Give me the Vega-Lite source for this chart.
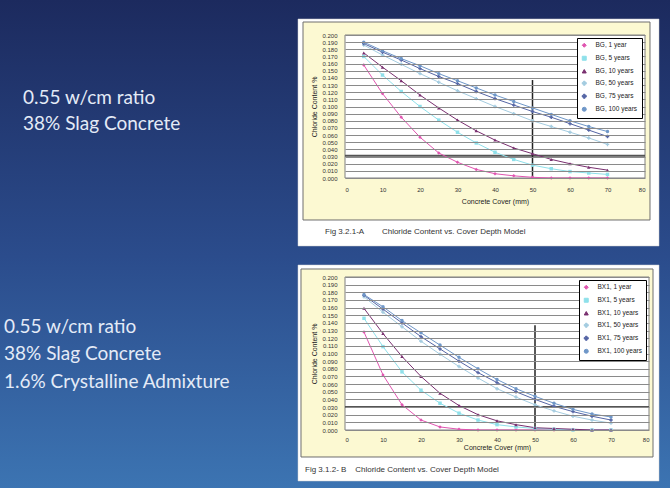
{
  "$schema": "https://vega.github.io/schema/vega-lite/v6.json",
  "padding": 0,
  "background": "#2b4c8c",
  "bounds": "flush",
  "spacing": 99,
  "datasets": {
    "bg": [
      {"series": "BG, 1 year", "cover": 5, "chloride": 0.158}, {"series": "BG, 1 year", "cover": 10, "chloride": 0.118}, {"series": "BG, 1 year", "cover": 15, "chloride": 0.085}, {"series": "BG, 1 year", "cover": 20, "chloride": 0.057}, {"series": "BG, 1 year", "cover": 25, "chloride": 0.035}, {"series": "BG, 1 year", "cover": 30, "chloride": 0.022}, {"series": "BG, 1 year", "cover": 35, "chloride": 0.012}, {"series": "BG, 1 year", "cover": 40, "chloride": 0.006}, {"series": "BG, 1 year", "cover": 45, "chloride": 0.003}, {"series": "BG, 1 year", "cover": 50, "chloride": 0.001}, {"series": "BG, 1 year", "cover": 55, "chloride": 0.0}, {"series": "BG, 1 year", "cover": 60, "chloride": 0.0}, {"series": "BG, 1 year", "cover": 65, "chloride": 0.0}, {"series": "BG, 1 year", "cover": 70, "chloride": 0.0},
      {"series": "BG, 5 years", "cover": 5, "chloride": 0.170}, {"series": "BG, 5 years", "cover": 10, "chloride": 0.144}, {"series": "BG, 5 years", "cover": 15, "chloride": 0.121}, {"series": "BG, 5 years", "cover": 20, "chloride": 0.100}, {"series": "BG, 5 years", "cover": 25, "chloride": 0.081}, {"series": "BG, 5 years", "cover": 30, "chloride": 0.064}, {"series": "BG, 5 years", "cover": 35, "chloride": 0.049}, {"series": "BG, 5 years", "cover": 40, "chloride": 0.036}, {"series": "BG, 5 years", "cover": 45, "chloride": 0.026}, {"series": "BG, 5 years", "cover": 50, "chloride": 0.018}, {"series": "BG, 5 years", "cover": 55, "chloride": 0.013}, {"series": "BG, 5 years", "cover": 60, "chloride": 0.009}, {"series": "BG, 5 years", "cover": 65, "chloride": 0.007}, {"series": "BG, 5 years", "cover": 70, "chloride": 0.005},
      {"series": "BG, 10 years", "cover": 5, "chloride": 0.175}, {"series": "BG, 10 years", "cover": 10, "chloride": 0.155}, {"series": "BG, 10 years", "cover": 15, "chloride": 0.136}, {"series": "BG, 10 years", "cover": 20, "chloride": 0.116}, {"series": "BG, 10 years", "cover": 25, "chloride": 0.098}, {"series": "BG, 10 years", "cover": 30, "chloride": 0.081}, {"series": "BG, 10 years", "cover": 35, "chloride": 0.066}, {"series": "BG, 10 years", "cover": 40, "chloride": 0.053}, {"series": "BG, 10 years", "cover": 45, "chloride": 0.042}, {"series": "BG, 10 years", "cover": 50, "chloride": 0.034}, {"series": "BG, 10 years", "cover": 55, "chloride": 0.026}, {"series": "BG, 10 years", "cover": 60, "chloride": 0.020}, {"series": "BG, 10 years", "cover": 65, "chloride": 0.015}, {"series": "BG, 10 years", "cover": 70, "chloride": 0.011},
      {"series": "BG, 50 years", "cover": 5, "chloride": 0.186}, {"series": "BG, 50 years", "cover": 10, "chloride": 0.172}, {"series": "BG, 50 years", "cover": 15, "chloride": 0.159}, {"series": "BG, 50 years", "cover": 20, "chloride": 0.146}, {"series": "BG, 50 years", "cover": 25, "chloride": 0.134}, {"series": "BG, 50 years", "cover": 30, "chloride": 0.122}, {"series": "BG, 50 years", "cover": 35, "chloride": 0.111}, {"series": "BG, 50 years", "cover": 40, "chloride": 0.100}, {"series": "BG, 50 years", "cover": 45, "chloride": 0.090}, {"series": "BG, 50 years", "cover": 50, "chloride": 0.080}, {"series": "BG, 50 years", "cover": 55, "chloride": 0.072}, {"series": "BG, 50 years", "cover": 60, "chloride": 0.064}, {"series": "BG, 50 years", "cover": 65, "chloride": 0.056}, {"series": "BG, 50 years", "cover": 70, "chloride": 0.047},
      {"series": "BG, 75 years", "cover": 5, "chloride": 0.188}, {"series": "BG, 75 years", "cover": 10, "chloride": 0.176}, {"series": "BG, 75 years", "cover": 15, "chloride": 0.165}, {"series": "BG, 75 years", "cover": 20, "chloride": 0.153}, {"series": "BG, 75 years", "cover": 25, "chloride": 0.142}, {"series": "BG, 75 years", "cover": 30, "chloride": 0.132}, {"series": "BG, 75 years", "cover": 35, "chloride": 0.121}, {"series": "BG, 75 years", "cover": 40, "chloride": 0.111}, {"series": "BG, 75 years", "cover": 45, "chloride": 0.102}, {"series": "BG, 75 years", "cover": 50, "chloride": 0.093}, {"series": "BG, 75 years", "cover": 55, "chloride": 0.085}, {"series": "BG, 75 years", "cover": 60, "chloride": 0.076}, {"series": "BG, 75 years", "cover": 65, "chloride": 0.067}, {"series": "BG, 75 years", "cover": 70, "chloride": 0.058},
      {"series": "BG, 100 years", "cover": 5, "chloride": 0.190}, {"series": "BG, 100 years", "cover": 10, "chloride": 0.178}, {"series": "BG, 100 years", "cover": 15, "chloride": 0.167}, {"series": "BG, 100 years", "cover": 20, "chloride": 0.157}, {"series": "BG, 100 years", "cover": 25, "chloride": 0.146}, {"series": "BG, 100 years", "cover": 30, "chloride": 0.136}, {"series": "BG, 100 years", "cover": 35, "chloride": 0.126}, {"series": "BG, 100 years", "cover": 40, "chloride": 0.116}, {"series": "BG, 100 years", "cover": 45, "chloride": 0.107}, {"series": "BG, 100 years", "cover": 50, "chloride": 0.098}, {"series": "BG, 100 years", "cover": 55, "chloride": 0.089}, {"series": "BG, 100 years", "cover": 60, "chloride": 0.080}, {"series": "BG, 100 years", "cover": 65, "chloride": 0.072}, {"series": "BG, 100 years", "cover": 70, "chloride": 0.065}
    ],
    "bx": [
      {"series": "BX1, 1 year", "cover": 5, "chloride": 0.128}, {"series": "BX1, 1 year", "cover": 10, "chloride": 0.072}, {"series": "BX1, 1 year", "cover": 15, "chloride": 0.033}, {"series": "BX1, 1 year", "cover": 20, "chloride": 0.013}, {"series": "BX1, 1 year", "cover": 25, "chloride": 0.004}, {"series": "BX1, 1 year", "cover": 30, "chloride": 0.001}, {"series": "BX1, 1 year", "cover": 35, "chloride": 0.0}, {"series": "BX1, 1 year", "cover": 40, "chloride": 0.0}, {"series": "BX1, 1 year", "cover": 45, "chloride": 0.0}, {"series": "BX1, 1 year", "cover": 50, "chloride": 0.0}, {"series": "BX1, 1 year", "cover": 55, "chloride": 0.0}, {"series": "BX1, 1 year", "cover": 60, "chloride": 0.0}, {"series": "BX1, 1 year", "cover": 65, "chloride": 0.0}, {"series": "BX1, 1 year", "cover": 70, "chloride": 0.0},
      {"series": "BX1, 5 years", "cover": 5, "chloride": 0.146}, {"series": "BX1, 5 years", "cover": 10, "chloride": 0.109}, {"series": "BX1, 5 years", "cover": 15, "chloride": 0.076}, {"series": "BX1, 5 years", "cover": 20, "chloride": 0.052}, {"series": "BX1, 5 years", "cover": 25, "chloride": 0.035}, {"series": "BX1, 5 years", "cover": 30, "chloride": 0.022}, {"series": "BX1, 5 years", "cover": 35, "chloride": 0.013}, {"series": "BX1, 5 years", "cover": 40, "chloride": 0.007}, {"series": "BX1, 5 years", "cover": 45, "chloride": 0.004}, {"series": "BX1, 5 years", "cover": 50, "chloride": 0.002}, {"series": "BX1, 5 years", "cover": 55, "chloride": 0.001}, {"series": "BX1, 5 years", "cover": 60, "chloride": 0.0}, {"series": "BX1, 5 years", "cover": 65, "chloride": 0.0}, {"series": "BX1, 5 years", "cover": 70, "chloride": 0.0},
      {"series": "BX1, 10 years", "cover": 5, "chloride": 0.159}, {"series": "BX1, 10 years", "cover": 10, "chloride": 0.126}, {"series": "BX1, 10 years", "cover": 15, "chloride": 0.096}, {"series": "BX1, 10 years", "cover": 20, "chloride": 0.070}, {"series": "BX1, 10 years", "cover": 25, "chloride": 0.048}, {"series": "BX1, 10 years", "cover": 30, "chloride": 0.032}, {"series": "BX1, 10 years", "cover": 35, "chloride": 0.020}, {"series": "BX1, 10 years", "cover": 40, "chloride": 0.012}, {"series": "BX1, 10 years", "cover": 45, "chloride": 0.007}, {"series": "BX1, 10 years", "cover": 50, "chloride": 0.003}, {"series": "BX1, 10 years", "cover": 55, "chloride": 0.002}, {"series": "BX1, 10 years", "cover": 60, "chloride": 0.001}, {"series": "BX1, 10 years", "cover": 65, "chloride": 0.0}, {"series": "BX1, 10 years", "cover": 70, "chloride": 0.0},
      {"series": "BX1, 50 years", "cover": 5, "chloride": 0.174}, {"series": "BX1, 50 years", "cover": 10, "chloride": 0.154}, {"series": "BX1, 50 years", "cover": 15, "chloride": 0.135}, {"series": "BX1, 50 years", "cover": 20, "chloride": 0.116}, {"series": "BX1, 50 years", "cover": 25, "chloride": 0.099}, {"series": "BX1, 50 years", "cover": 30, "chloride": 0.083}, {"series": "BX1, 50 years", "cover": 35, "chloride": 0.068}, {"series": "BX1, 50 years", "cover": 40, "chloride": 0.054}, {"series": "BX1, 50 years", "cover": 45, "chloride": 0.043}, {"series": "BX1, 50 years", "cover": 50, "chloride": 0.033}, {"series": "BX1, 50 years", "cover": 55, "chloride": 0.025}, {"series": "BX1, 50 years", "cover": 60, "chloride": 0.018}, {"series": "BX1, 50 years", "cover": 65, "chloride": 0.013}, {"series": "BX1, 50 years", "cover": 70, "chloride": 0.009},
      {"series": "BX1, 75 years", "cover": 5, "chloride": 0.176}, {"series": "BX1, 75 years", "cover": 10, "chloride": 0.158}, {"series": "BX1, 75 years", "cover": 15, "chloride": 0.140}, {"series": "BX1, 75 years", "cover": 20, "chloride": 0.122}, {"series": "BX1, 75 years", "cover": 25, "chloride": 0.106}, {"series": "BX1, 75 years", "cover": 30, "chloride": 0.090}, {"series": "BX1, 75 years", "cover": 35, "chloride": 0.075}, {"series": "BX1, 75 years", "cover": 40, "chloride": 0.062}, {"series": "BX1, 75 years", "cover": 45, "chloride": 0.050}, {"series": "BX1, 75 years", "cover": 50, "chloride": 0.040}, {"series": "BX1, 75 years", "cover": 55, "chloride": 0.031}, {"series": "BX1, 75 years", "cover": 60, "chloride": 0.024}, {"series": "BX1, 75 years", "cover": 65, "chloride": 0.018}, {"series": "BX1, 75 years", "cover": 70, "chloride": 0.013},
      {"series": "BX1, 100 years", "cover": 5, "chloride": 0.177}, {"series": "BX1, 100 years", "cover": 10, "chloride": 0.161}, {"series": "BX1, 100 years", "cover": 15, "chloride": 0.143}, {"series": "BX1, 100 years", "cover": 20, "chloride": 0.127}, {"series": "BX1, 100 years", "cover": 25, "chloride": 0.111}, {"series": "BX1, 100 years", "cover": 30, "chloride": 0.095}, {"series": "BX1, 100 years", "cover": 35, "chloride": 0.080}, {"series": "BX1, 100 years", "cover": 40, "chloride": 0.066}, {"series": "BX1, 100 years", "cover": 45, "chloride": 0.054}, {"series": "BX1, 100 years", "cover": 50, "chloride": 0.044}, {"series": "BX1, 100 years", "cover": 55, "chloride": 0.035}, {"series": "BX1, 100 years", "cover": 60, "chloride": 0.027}, {"series": "BX1, 100 years", "cover": 65, "chloride": 0.021}, {"series": "BX1, 100 years", "cover": 70, "chloride": 0.017}
    ]
  },
  "vconcat": [
    {
      "width": 300,
      "height": 143,
      "layer": [
        {"data": {"values": [{}]}, "mark": {"type": "rect", "strokeWidth": 0, "fill": {"gradient": "linear", "x1": 0, "y1": 0, "x2": 0, "y2": 1, "stops": [{"offset": 0, "color": "#1c2a5e"}, {"offset": 1, "color": "#2b4c8c"}]}},
         "encoding": {"x": {"datum": -92, "type": "quantitative"}, "x2": {"datum": 86.667}, "y": {"datum": 0.248951, "type": "quantitative"}, "y2": {"datum": -0.109091}}},
        {"data": {"values": [{}]}, "mark": {"type": "rect", "fill": "#ffffff", "stroke": "#d0d0d0", "strokeWidth": 0.5},
         "encoding": {"x": {"datum": -12.533, "type": "quantitative"}, "x2": {"datum": 83.733}, "y": {"datum": 0.22238, "type": "quantitative"}, "y2": {"datum": -0.0951}}},
        {"data": {"values": [{}]}, "mark": {"type": "rect", "fill": "#fcf9d2", "stroke": "#6e6e6e", "strokeWidth": 1},
         "encoding": {"x": {"datum": -11.2, "type": "quantitative"}, "x2": {"datum": 81.333}, "y": {"datum": 0.21818, "type": "quantitative"}, "y2": {"datum": -0.05874}}},
        {"data": {"values": [{}]}, "mark": {"type": "rect", "fill": "#ffffff", "stroke": "#808080", "strokeWidth": 1},
         "encoding": {"x": {"datum": 0, "type": "quantitative"}, "x2": {"datum": 80}, "y": {"datum": 0, "type": "quantitative"}, "y2": {"datum": 0.2}}},
        {"data": {"values": [{}]}, "mark": {"type": "rule", "stroke": "#555555", "strokeWidth": 2},
         "encoding": {"x": {"datum": 0, "type": "quantitative"}, "x2": {"datum": 80}, "y": {"datum": 0.031, "type": "quantitative"}}},
        {"data": {"values": [{}]}, "mark": {"type": "rule", "stroke": "#222222", "strokeWidth": 1.5},
         "encoding": {"x": {"datum": 50, "type": "quantitative"}, "y": {"datum": 0, "type": "quantitative"}, "y2": {"datum": 0.137}}},
        {"data": {"name": "bg"}, "mark": {"type": "line", "strokeWidth": 1},
         "encoding": {
           "x": {"field": "cover", "type": "quantitative", "scale": {"domain": [0, 80], "nice": false}, "axis": {"zindex": 1, "title": "Concrete Cover (mm)", "values": [0, 10, 20, 30, 40, 50, 60, 70, 80], "tickCount": 20, "grid": false, "labelOverlap": false, "labelPadding": 8, "titlePadding": 5}},
           "y": {"field": "chloride", "type": "quantitative", "scale": {"domain": [0, 0.2], "nice": false}, "axis": {"zindex": 1, "title": "Chloride Content %", "values": [0, 0.01, 0.02, 0.03, 0.04, 0.05, 0.06, 0.07, 0.08, 0.09, 0.1, 0.11, 0.12, 0.13, 0.14, 0.15, 0.16, 0.17, 0.18, 0.19, 0.2], "tickCount": 30, "format": ".3f", "grid": true, "labelOverlap": false, "labelPadding": 8, "titlePadding": 4}},
           "color": {"field": "series", "type": "nominal", "scale": {"domain": ["BG, 1 year", "BG, 5 years", "BG, 10 years", "BG, 50 years", "BG, 75 years", "BG, 100 years"], "range": ["#e055b0", "#8ee0ea", "#7a3070", "#a4cce0", "#5565a5", "#6f97c8"]}, "legend": {"title": null}}
         }},
        {"data": {"name": "bg"}, "mark": {"type": "point", "filled": true, "size": 12, "opacity": 1},
         "encoding": {
           "x": {"field": "cover", "type": "quantitative"},
           "y": {"field": "chloride", "type": "quantitative"},
           "color": {"field": "series", "type": "nominal", "legend": {"title": null}},
           "shape": {"field": "series", "type": "nominal", "scale": {"domain": ["BG, 1 year", "BG, 5 years", "BG, 10 years", "BG, 50 years", "BG, 75 years", "BG, 100 years"], "range": ["diamond", "square", "triangle-up", "cross", "cross", "circle"]}, "legend": {"title": null}}
         }},
        {"data": {"values": [{"t": "Fig 3.2.1-A\u00a0\u00a0\u00a0\u00a0\u00a0\u00a0\u00a0\u00a0Chloride Content vs. Cover Depth Model"}]},
         "mark": {"type": "text", "align": "left", "baseline": "middle", "font": "Liberation Sans", "fontSize": 8, "color": "#333333"},
         "encoding": {"x": {"datum": -5.333, "type": "quantitative"}, "y": {"datum": -0.075524, "type": "quantitative"}, "text": {"field": "t", "type": "nominal"}}},
        {"data": {"values": [{"t": ["0.55 w/cm ratio", "38% Slag Concrete"]}]},
         "mark": {"type": "text", "align": "left", "baseline": "middle", "font": "Lato", "fontSize": 19, "lineHeight": 26, "color": "#e4ebf7"},
         "encoding": {"x": {"datum": -85.867, "type": "quantitative"}, "y": {"datum": 0.111888, "type": "quantitative"}, "text": {"field": "t", "type": "nominal"}}}
      ]
    },
    {
      "width": 304,
      "height": 153,
      "layer": [
        {"data": {"values": [{}]}, "mark": {"type": "rect", "strokeWidth": 0, "fill": {"gradient": "linear", "x1": 0, "y1": 0, "x2": 0, "y2": 1, "stops": [{"offset": 0, "color": "#2b4c8c"}, {"offset": 1, "color": "#3c74b2"}]}},
         "encoding": {"x": {"datum": -90.789, "type": "quantitative"}, "x2": {"datum": 85.526}, "y": {"datum": 0.227451, "type": "quantitative"}, "y2": {"datum": -0.075817}}},
        {"data": {"values": [{}]}, "mark": {"type": "rect", "fill": "#ffffff", "stroke": "#d0d0d0", "strokeWidth": 0.5},
         "encoding": {"x": {"datum": -12.368, "type": "quantitative"}, "x2": {"datum": 82.632}, "y": {"datum": 0.215686, "type": "quantitative"}, "y2": {"datum": -0.066667}}},
        {"data": {"values": [{}]}, "mark": {"type": "rect", "fill": "#fcf9d2", "stroke": "#6e6e6e", "strokeWidth": 1},
         "encoding": {"x": {"datum": -11.579, "type": "quantitative"}, "x2": {"datum": 81.053}, "y": {"datum": 0.210458, "type": "quantitative"}, "y2": {"datum": -0.035294}}},
        {"data": {"values": [{}]}, "mark": {"type": "rect", "fill": "#ffffff", "stroke": "#808080", "strokeWidth": 1},
         "encoding": {"x": {"datum": 0, "type": "quantitative"}, "x2": {"datum": 80}, "y": {"datum": 0, "type": "quantitative"}, "y2": {"datum": 0.2}}},
        {"data": {"values": [{}]}, "mark": {"type": "rule", "stroke": "#555555", "strokeWidth": 2},
         "encoding": {"x": {"datum": 0, "type": "quantitative"}, "x2": {"datum": 80}, "y": {"datum": 0.03, "type": "quantitative"}}},
        {"data": {"values": [{}]}, "mark": {"type": "rule", "stroke": "#222222", "strokeWidth": 1.5},
         "encoding": {"x": {"datum": 50, "type": "quantitative"}, "y": {"datum": 0, "type": "quantitative"}, "y2": {"datum": 0.137}}},
        {"data": {"name": "bx"}, "mark": {"type": "line", "strokeWidth": 1},
         "encoding": {
           "x": {"field": "cover", "type": "quantitative", "scale": {"domain": [0, 80], "nice": false}, "axis": {"zindex": 1, "title": "Concrete Cover (mm)", "values": [0, 10, 20, 30, 40, 50, 60, 70, 80], "tickCount": 20, "grid": false, "labelOverlap": false, "labelPadding": 6, "titlePadding": 1}},
           "y": {"field": "chloride", "type": "quantitative", "scale": {"domain": [0, 0.2], "nice": false}, "axis": {"zindex": 1, "title": "Chloride Content %", "values": [0, 0.01, 0.02, 0.03, 0.04, 0.05, 0.06, 0.07, 0.08, 0.09, 0.1, 0.11, 0.12, 0.13, 0.14, 0.15, 0.16, 0.17, 0.18, 0.19, 0.2], "tickCount": 30, "format": ".3f", "grid": true, "labelOverlap": false, "labelPadding": 8, "titlePadding": 4}},
           "color": {"field": "series", "type": "nominal", "scale": {"domain": ["BX1, 1 year", "BX1, 5 years", "BX1, 10 years", "BX1, 50 years", "BX1, 75 years", "BX1, 100 years"], "range": ["#e055b0", "#8ee0ea", "#7a3070", "#a4cce0", "#5565a5", "#6f97c8"]}, "legend": {"title": null}}
         }},
        {"data": {"name": "bx"}, "mark": {"type": "point", "filled": true, "size": 12, "opacity": 1},
         "encoding": {
           "x": {"field": "cover", "type": "quantitative"},
           "y": {"field": "chloride", "type": "quantitative"},
           "color": {"field": "series", "type": "nominal", "legend": {"title": null}},
           "shape": {"field": "series", "type": "nominal", "scale": {"domain": ["BX1, 1 year", "BX1, 5 years", "BX1, 10 years", "BX1, 50 years", "BX1, 75 years", "BX1, 100 years"], "range": ["diamond", "square", "triangle-up", "cross", "cross", "circle"]}, "legend": {"title": null}}
         }},
        {"data": {"values": [{"t": "Fig 3.1.2- B\u00a0\u00a0\u00a0\u00a0Chloride Content vs. Cover Depth Model"}]},
         "mark": {"type": "text", "align": "left", "baseline": "middle", "font": "Liberation Sans", "fontSize": 8, "color": "#333333"},
         "encoding": {"x": {"datum": -10.526, "type": "quantitative"}, "y": {"datum": -0.052288, "type": "quantitative"}, "text": {"field": "t", "type": "nominal"}}},
        {"data": {"values": [{"t": ["0.55 w/cm ratio", "38% Slag Concrete", "1.6% Crystalline Admixture"]}]},
         "mark": {"type": "text", "align": "left", "baseline": "middle", "font": "Lato", "fontSize": 19, "lineHeight": 27.5, "color": "#e4ebf7"},
         "encoding": {"x": {"datum": -89.737, "type": "quantitative"}, "y": {"datum": 0.134641, "type": "quantitative"}, "text": {"field": "t", "type": "nominal"}}}
      ]
    }
  ],
  "resolve": {
    "scale": {"x": "independent", "y": "independent", "color": "independent", "shape": "independent"},
    "legend": {"color": "independent", "shape": "independent"}
  },
  "config": {
    "view": {"stroke": null},
    "axis": {"domain": false, "ticks": false, "labelFont": "Liberation Sans", "titleFont": "Liberation Sans", "labelFontSize": 6, "titleFontSize": 7, "titleFontWeight": "normal", "labelColor": "#333333", "titleColor": "#222222", "gridColor": "#8a8a8a", "gridWidth": 1},
    "legend": {"orient": "top-right", "offset": 3, "zindex": 2, "fillColor": "#ffffff", "strokeColor": "#000000", "padding": 4, "labelFont": "Liberation Sans", "labelFontSize": 6.5, "labelColor": "#222222", "symbolSize": 16, "rowPadding": 4, "labelOffset": 8, "symbolStrokeWidth": 1}
  }
}
